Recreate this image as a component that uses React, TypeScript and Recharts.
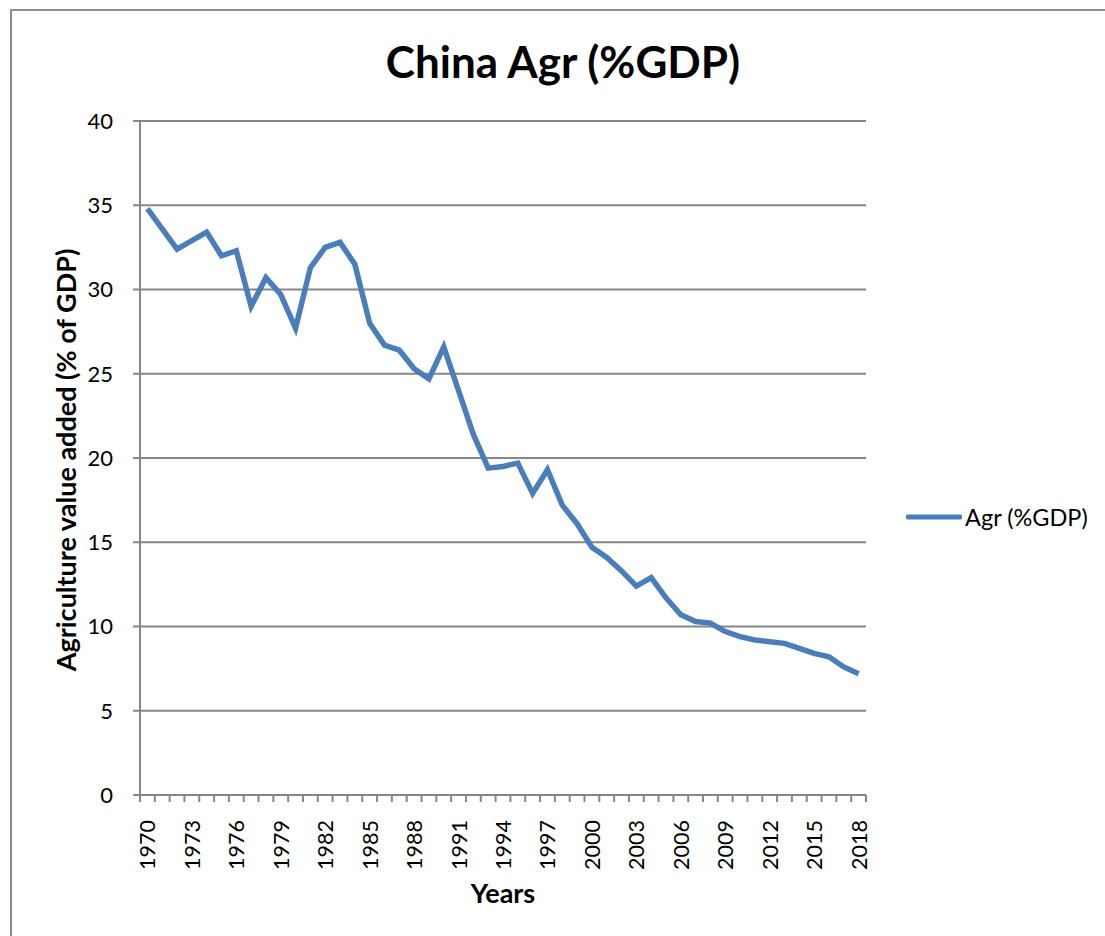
import React from 'react';
import { LineChart, Line, XAxis, YAxis, CartesianGrid, Legend } from 'recharts';

const years = [
  1970, 1971, 1972, 1973, 1974, 1975, 1976, 1977, 1978, 1979,
  1980, 1981, 1982, 1983, 1984, 1985, 1986, 1987, 1988, 1989,
  1990, 1991, 1992, 1993, 1994, 1995, 1996, 1997, 1998, 1999,
  2000, 2001, 2002, 2003, 2004, 2005, 2006, 2007, 2008, 2009,
  2010, 2011, 2012, 2013, 2014, 2015, 2016, 2017, 2018
];

// Agriculture value added (% of GDP)
const agrValues = [
  34.8, 33.6, 32.4, 32.9, 33.4, 32.0, 32.3, 29.0, 30.7, 29.7,
  27.7, 31.3, 32.5, 32.8, 31.5, 28.0, 26.7, 26.4, 25.3, 24.7,
  26.6, 24.0, 21.4, 19.4, 19.5, 19.7, 17.9, 19.3, 17.2, 16.1,
  14.7, 14.1, 13.3, 12.4, 12.9, 11.7, 10.7, 10.3, 10.2, 9.7,
  9.4, 9.2, 9.1, 9.0, 8.7, 8.4, 8.2, 7.6, 7.2
];

const yTicks = [0, 5, 10, 15, 20, 25, 30, 35, 40];
const labelYears = years.filter((_, i) => i % 3 === 0);
// tick marks sit between categories, like Excel's default
const boundaryTicks = [...years.map((y) => y - 0.5), years[years.length - 1] + 0.5];

const data = years.map((year, i) => ({ year, agr: agrValues[i] }));

const FONT = 'Lato, "DejaVu Sans", sans-serif';
const AXIS = '#868686';
const LINE = '#4a7ebb';

const YearTick = (props: any) => {
  const { x, y, payload } = props;
  return (
    <g transform={`translate(${x},${y + 9})`}>
      <text
        transform='rotate(-90)'
        textAnchor='end'
        dominantBaseline='central'
        fontSize={21.5}
        fontFamily={FONT}
        fill='#000'
      >
        {payload.value}
      </text>
    </g>
  );
};

const LegendContent = () => (
  <div style={{ display: 'flex', alignItems: 'center', paddingLeft: 40, fontFamily: FONT, whiteSpace: 'nowrap' }}>
    <svg width={56} height={10}>
      <line x1={2} y1={5} x2={54} y2={5} stroke={LINE} strokeWidth={5} strokeLinecap='round' />
    </svg>
    <span style={{ fontSize: 23.5, marginLeft: 3, color: '#000' }}>Agr (%GDP)</span>
  </div>
);

export default function App() {
  return (
    <div style={{ position: 'absolute', left: 0, top: 0, width: 1105, height: 936, overflow: 'hidden', background: '#fff' }}>
      <div style={{ position: 'absolute', left: 10, top: 9, width: 1200, height: 1000, border: '2px solid #8c8c8c' }} />
      <div
        style={{
          position: 'absolute', left: 0, top: 33, width: 1126, textAlign: 'center',
          fontFamily: FONT, fontWeight: 700, fontSize: 44, lineHeight: '56px', color: '#000'
        }}
      >
        China Agr (%GDP)
      </div>
      <LineChart
        width={1105}
        height={936}
        data={data}
        margin={{ top: 121, right: 17, bottom: 63, left: 40 }}
        style={{ position: 'absolute', left: 0, top: 0 }}
      >
        <CartesianGrid horizontal vertical={false} stroke={AXIS} strokeWidth={2} xAxisId='frame' />
        <XAxis
          xAxisId='frame'
          dataKey='year'
          type='number'
          domain={[1969.5, 2018.5]}
          ticks={boundaryTicks}
          interval={0}
          height={8}
          tickSize={7}
          tick={() => <g />}
          axisLine={{ stroke: AXIS, strokeWidth: 2 }}
          tickLine={{ stroke: AXIS, strokeWidth: 2 }}
        />
        <XAxis
          xAxisId='labels'
          dataKey='year'
          type='number'
          domain={[1969.5, 2018.5]}
          ticks={labelYears}
          interval={0}
          height={70}
          axisLine={false}
          tickLine={false}
          tick={<YearTick />}
          label={{
            content: (p: any) => {
              const vb = p.viewBox;
              return (
                <text
                  x={vb.x + vb.width / 2}
                  y={vb.y + vb.height + 19}
                  textAnchor='middle'
                  dominantBaseline='central'
                  fontFamily={FONT}
                  fontWeight={700}
                  fontSize={27}
                  fill='#000'
                >
                  Years
                </text>
              );
            }
          }}
        />
        <YAxis
          domain={[0, 40]}
          ticks={yTicks}
          interval={0}
          width={100}
          tickSize={7}
          tickMargin={20}
          axisLine={{ stroke: AXIS, strokeWidth: 2 }}
          tickLine={{ stroke: AXIS, strokeWidth: 2 }}
          tick={{ fontSize: 22, fontFamily: FONT, fill: '#000' }}
          label={{
            content: (p: any) => {
              const vb = p.viewBox;
              const cx = vb.x + 25;
              const cy = vb.y + vb.height / 2 + 2;
              return (
                <text
                  x={cx}
                  y={cy}
                  transform={`rotate(-90, ${cx}, ${cy})`}
                  textAnchor='middle'
                  dominantBaseline='central'
                  fontFamily={FONT}
                  fontWeight={700}
                  fontSize={27}
                  fill='#000'
                >
                  Agriculture value added (% of GDP)
                </text>
              );
            }
          }}
        />
        <Legend
          layout='vertical'
          align='right'
          verticalAlign='middle'
          content={<LegendContent />}
          wrapperStyle={{ width: 222, top: 503 }}
        />
        <Line
          xAxisId='frame'
          type='linear'
          dataKey='agr'
          name='Agr (%GDP)'
          stroke={LINE}
          strokeWidth={5.5}
          dot={false}
          activeDot={false}
          isAnimationActive={false}
        />
      </LineChart>
    </div>
  );
}
